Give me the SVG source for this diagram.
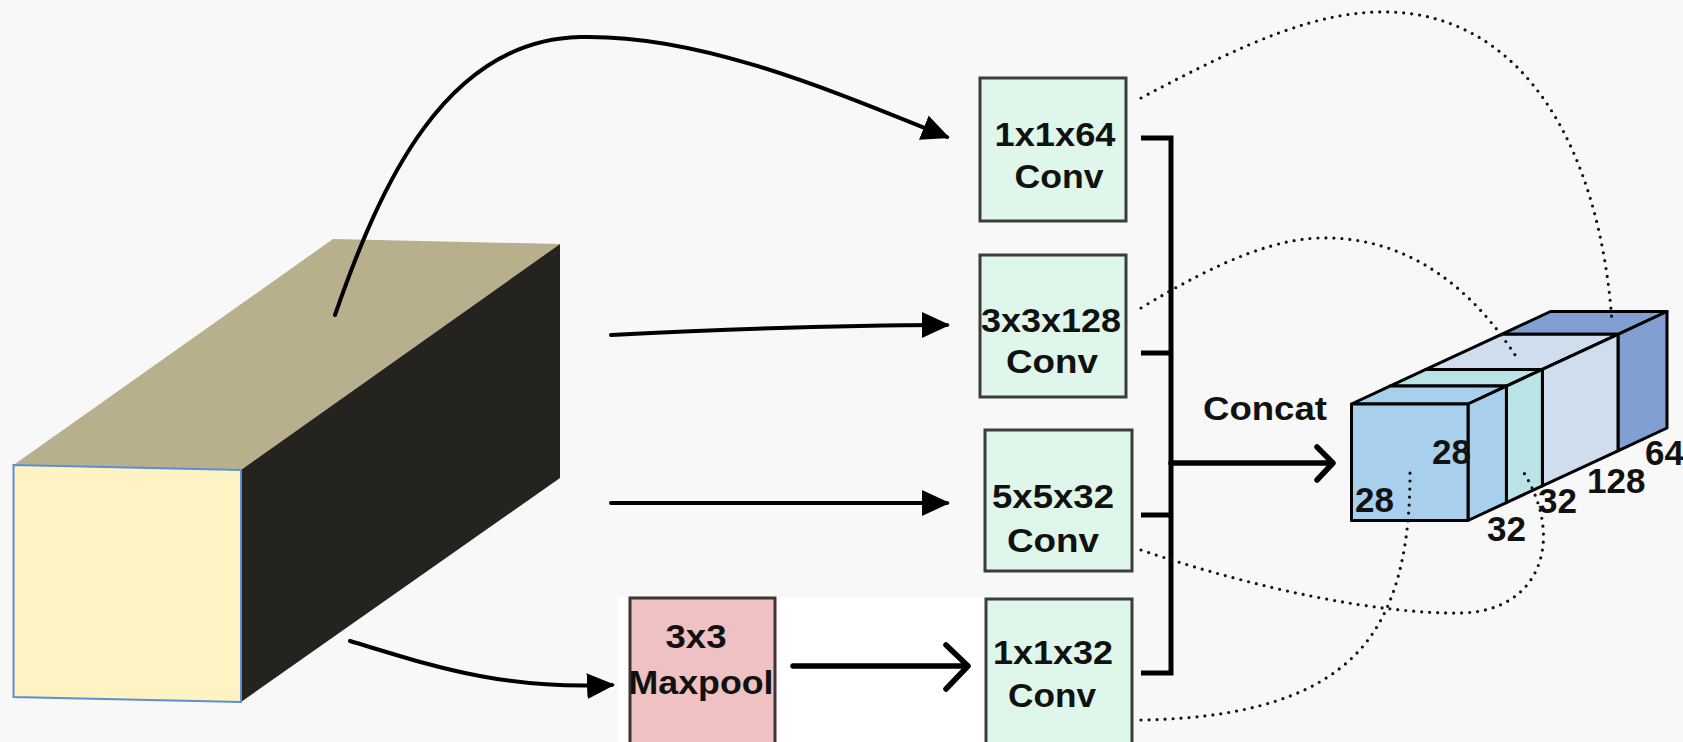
<svg xmlns="http://www.w3.org/2000/svg" width="1683" height="742" viewBox="0 0 1683 742">
  <style>
    .lbl { font-family: "Liberation Sans", Arial, sans-serif; font-weight: bold; font-size: 33px; fill: #111; }
    .dim { font-family: "Liberation Sans", Arial, sans-serif; font-weight: bold; font-size: 35px; fill: #111; }
    .conv { fill: #DFF6EA; stroke: #3a3d3b; stroke-width: 3; }
    .pool { fill: #EFC1C2; stroke: #3d3434; stroke-width: 3; }
    .solid { fill: none; stroke: #000; stroke-width: 4; stroke-linecap: round; }
    .thick { fill: none; stroke: #000; stroke-width: 5.5; stroke-linecap: round; stroke-linejoin: round; }
    .dots { fill: none; stroke: #111; stroke-width: 3.2; stroke-linecap: round; stroke-dasharray: 0 8; }
    .slab { stroke: #000; stroke-width: 3; stroke-linejoin: round; }
  </style>
  <defs>
    <marker id="tri" markerUnits="userSpaceOnUse" markerWidth="28" markerHeight="26" viewBox="0 0 28 26" refX="25" refY="13" orient="auto">
      <path d="M0,0 L28,13 L0,26 Z" fill="#000"/>
    </marker>
  </defs>

  <rect x="0" y="0" width="1683" height="742" fill="#F8F8F8"/>
  <rect x="618" y="597" width="368" height="145" fill="#FFFFFF"/>

  <g id="input-volume">
    <polygon points="13.5,465 241,470 560,244 333,239" fill="#B8B08D"/>
    <polygon points="241,470 560,244 560,478 241,702" fill="#24231F"/>
    <polygon points="13.5,465 241,470 241,702 13.5,697" fill="#FFF3C3" stroke="#5B8FD2" stroke-width="2"/>
  </g>

  <g id="connectors">
    <path class="solid" marker-end="url(#tri)" d="M335,315 C380,185 445,40 580,37 C700,34 830,90 947,137"/>
    <path class="solid" marker-end="url(#tri)" d="M611,335 C750,328 850,325 947,325"/>
    <path class="solid" marker-end="url(#tri)" d="M611,503 L947,503"/>
    <path class="solid" marker-end="url(#tri)" d="M350,641 C430,665 500,690 612,685"/>
    <path class="thick" d="M793,666 H966 M946,645 L968,666 L946,689"/>
    <path fill="none" stroke="#000" stroke-width="5" d="M1141,138 H1171 V673 H1141 M1141,353 H1171 M1141,515 H1171"/>
    <path class="thick" d="M1171,463 H1331 M1317,447 L1333,463 L1317,480"/>
  </g>

  <g id="conv1x1x64">
    <rect class="conv" x="980" y="78" width="146" height="143"/>
    <text class="lbl" x="1055" y="146" text-anchor="middle" textLength="121" lengthAdjust="spacingAndGlyphs">1x1x64</text>
    <text class="lbl" x="1059" y="188" text-anchor="middle" textLength="89" lengthAdjust="spacingAndGlyphs">Conv</text>
  </g>
  <g id="conv3x3x128">
    <rect class="conv" x="980" y="255" width="146" height="142"/>
    <text class="lbl" x="1051" y="332" text-anchor="middle" textLength="140" lengthAdjust="spacingAndGlyphs">3x3x128</text>
    <text class="lbl" x="1052" y="373" text-anchor="middle" textLength="92" lengthAdjust="spacingAndGlyphs">Conv</text>
  </g>
  <g id="conv5x5x32">
    <rect class="conv" x="985" y="430" width="147" height="141"/>
    <text class="lbl" x="1053" y="508" text-anchor="middle" textLength="122" lengthAdjust="spacingAndGlyphs">5x5x32</text>
    <text class="lbl" x="1053" y="552" text-anchor="middle" textLength="92" lengthAdjust="spacingAndGlyphs">Conv</text>
  </g>
  <g id="maxpool">
    <rect class="pool" x="630" y="598" width="145" height="150"/>
    <text class="lbl" x="696" y="648" text-anchor="middle" textLength="61" lengthAdjust="spacingAndGlyphs">3x3</text>
    <text class="lbl" x="701" y="694" text-anchor="middle" textLength="145" lengthAdjust="spacingAndGlyphs">Maxpool</text>
  </g>
  <g id="conv1x1x32">
    <rect class="conv" x="986" y="599" width="146" height="149"/>
    <text class="lbl" x="1053" y="664" text-anchor="middle" textLength="120" lengthAdjust="spacingAndGlyphs">1x1x32</text>
    <text class="lbl" x="1052" y="707" text-anchor="middle" textLength="88" lengthAdjust="spacingAndGlyphs">Conv</text>
  </g>

  <g id="concat-label">
    <text class="lbl" x="1203" y="420" textLength="124" lengthAdjust="spacingAndGlyphs">Concat</text>
  </g>

  <g id="output-volume">
    <polygon class="slab" fill="#819FD1" points="1501.5,334.3 1618,334.3 1667,311.5 1550.5,311.5"/>
    <polygon class="slab" fill="#819FD1" points="1618,334.3 1667,311.5 1667,428 1618,450.8"/>
    <polygon class="slab" fill="#D0DDEC" points="1425.9,369.4 1542.4,369.4 1618,334.3 1501.5,334.3"/>
    <polygon class="slab" fill="#D0DDEC" points="1542.4,369.4 1618,334.3 1618,450.8 1542.4,485.9"/>
    <polygon class="slab" fill="#BAE3E6" points="1389.9,386.1 1506.4,386.1 1542.4,369.4 1425.9,369.4"/>
    <polygon class="slab" fill="#BAE3E6" points="1506.4,386.1 1542.4,369.4 1542.4,485.9 1506.4,502.6"/>
    <polygon class="slab" fill="#A8CFEB" points="1351.5,404 1468,404 1506.4,386.1 1389.9,386.1"/>
    <polygon class="slab" fill="#A8CFEB" points="1468,404 1506.4,386.1 1506.4,502.6 1468,520.5"/>
    <rect class="slab" fill="#A8CFEB" x="1351.5" y="404" width="116.5" height="116.5"/>
    <text class="dim" x="1432" y="464">28</text>
    <text class="dim" x="1355" y="512">28</text>
    <text class="dim" x="1487" y="541">32</text>
    <text class="dim" x="1538" y="513">32</text>
    <text class="dim" x="1587" y="493">128</text>
    <text class="dim" x="1645" y="465">64</text>
  </g>

  <g id="dotted-connectors">
    <path class="dots" d="M1141,98 C1250,40 1320,10 1390,12 C1525,16 1600,150 1612,322"/>
    <path class="dots" d="M1141,308 C1220,260 1280,236 1330,238 C1420,240 1480,300 1517,358"/>
    <path class="dots" d="M1141,550 C1260,590 1380,614 1460,613 C1540,612 1565,540 1524,473"/>
    <path class="dots" d="M1141,720 C1260,718 1340,690 1378,625 C1405,580 1410,520 1410,473"/>
  </g>
</svg>
